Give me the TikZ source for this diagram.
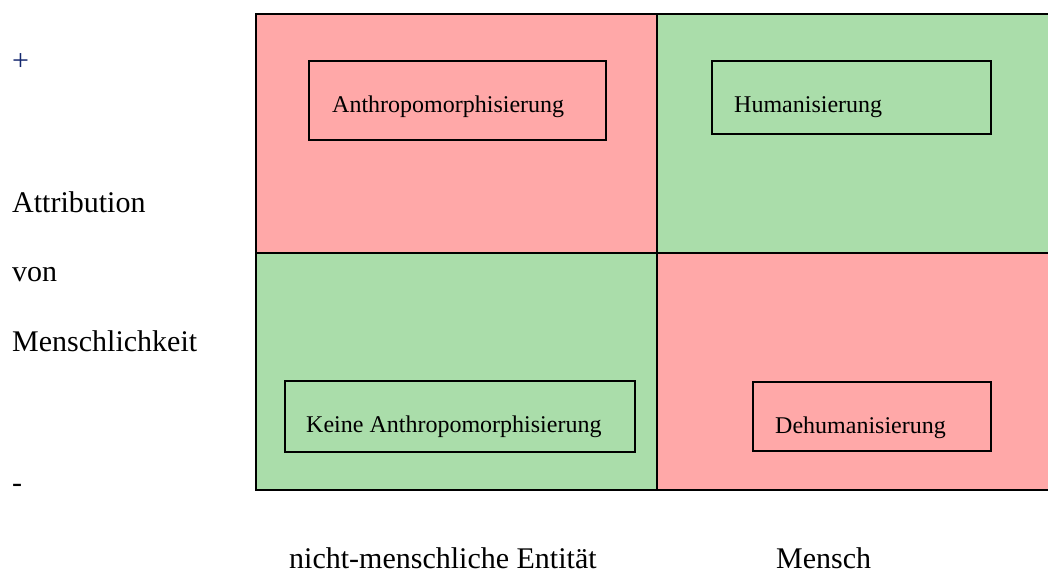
\documentclass[tikz,border=0pt]{standalone}
\usepackage{fontspec}
\setmainfont{Liberation Serif}
\definecolor{quadred}{RGB}{255,168,168}
\definecolor{quadgreen}{RGB}{170,221,170}
\definecolor{plusblue}{RGB}{20,40,110}
\tikzset{
  quad/.style={draw=black, line width=2pt},
  labelbox/.style={draw=black, line width=2.4pt, fill=none, inner sep=0pt, anchor=north west},
  boxtext/.style={anchor=base west, inner sep=0pt, font=\fontsize{24}{28}\selectfont},
  axistext/.style={anchor=base west, inner sep=0pt, font=\fontsize{30}{36}\selectfont},
}
\begin{document}
\begin{tikzpicture}[x=1pt, y=-1pt]
  \useasboundingbox (0,0) rectangle (1048,576);

  % four quadrants of the matrix
  \fill[quadred]   (256,14)  rectangle (657,253);
  \fill[quadgreen] (657,14)  rectangle (1060,253);
  \fill[quadgreen] (256,253) rectangle (657,490);
  \fill[quadred]   (657,253) rectangle (1060,490);
  \draw[quad] (256,14) rectangle (1060,490);
  \draw[quad] (657,14) -- (657,490);
  \draw[quad] (256,253) -- (1060,253);

  % labelled boxes inside the quadrants
  \node[labelbox, minimum width=297pt, minimum height=79pt] (anthbox) at (308,60) {};
  \node[boxtext] (anth) at (332,112) {Anthropomorphisierung};

  \node[labelbox, minimum width=279pt, minimum height=73pt] (humbox) at (711,60) {};
  \node[boxtext] (hum) at (734,112) {Humanisierung};

  \node[labelbox, minimum width=350pt, minimum height=71pt] (keinebox) at (284,380) {};
  \node[boxtext] (keine) at (306,432) {Keine Anthropomorphisierung};

  \node[labelbox, minimum width=238pt, minimum height=69pt] (dehumbox) at (752,381) {};
  \node[boxtext] (dehum) at (775,433) {Dehumanisierung};

  % vertical axis labels
  \node[axistext, text=plusblue] (plus) at (12,70) {+};
  \node[axistext] (attr) at (12,212) {Attribution};
  \node[axistext] (von) at (12,281) {von};
  \node[axistext] (mensch) at (12,351) {Menschlichkeit};
  \node[axistext] (minus) at (12,492) {-};

  % horizontal axis labels
  \node[axistext] (nonhuman) at (289,568) {nicht-menschliche Entität};
  \node[axistext] (human) at (776,568) {Mensch};
\end{tikzpicture}
\end{document}
